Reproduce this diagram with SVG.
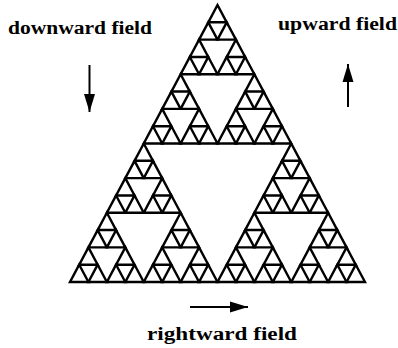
<svg xmlns="http://www.w3.org/2000/svg" xmlns:xlink="http://www.w3.org/1999/xlink" width="398" height="348" viewBox="0 0 398 348">
<style>
.tri{fill:none;stroke:#000;stroke-width:2.4;stroke-linejoin:miter}
.arr{stroke:#000;stroke-width:2;fill:none}
</style>
<defs>
<marker id="head" markerUnits="userSpaceOnUse" markerWidth="20" markerHeight="12" refX="18" refY="6" orient="auto">
<path d="M0,0.5 L18,6 L0,11.5 Z" fill="#000"/>
</marker>
<polygon id="t0" class="tri" points="0,0 -9.21875,17.3125 9.21875,17.3125"/>
<g id="t1"><use xlink:href="#t0"/><use xlink:href="#t0" x="-9.21875" y="17.3125"/><use xlink:href="#t0" x="9.21875" y="17.3125"/></g>
<g id="t2"><use xlink:href="#t1"/><use xlink:href="#t1" x="-18.4375" y="34.625"/><use xlink:href="#t1" x="18.4375" y="34.625"/></g>
<g id="t3"><use xlink:href="#t2"/><use xlink:href="#t2" x="-36.875" y="69.25"/><use xlink:href="#t2" x="36.875" y="69.25"/></g>
<g id="t4"><use xlink:href="#t3"/><use xlink:href="#t3" x="-73.75" y="138.5"/><use xlink:href="#t3" x="73.75" y="138.5"/></g>
</defs>
<rect width="398" height="348" fill="#fff"/>
<g id="gasket">
<use xlink:href="#t4" x="217.5" y="5"/>
</g>
<g id="labels" font-family="Liberation Serif, Times New Roman, serif" font-weight="bold" font-size="18" fill="#000">
<g id="label-downward">
<text x="8" y="34" textLength="144" lengthAdjust="spacingAndGlyphs">downward field</text>
</g>
<g id="label-upward">
<text x="278" y="30" textLength="119" lengthAdjust="spacingAndGlyphs">upward field</text>
</g>
<g id="label-rightward">
<text x="147" y="340" textLength="150" lengthAdjust="spacingAndGlyphs">rightward field</text>
</g>
</g>
<g id="arrows">
<line class="arr" x1="89.5" y1="65" x2="89.5" y2="112" marker-end="url(#head)"/>
<line class="arr" x1="348" y1="107" x2="348" y2="64" marker-end="url(#head)"/>
<line class="arr" x1="190" y1="307" x2="248" y2="307" marker-end="url(#head)"/>
</g>
</svg>
